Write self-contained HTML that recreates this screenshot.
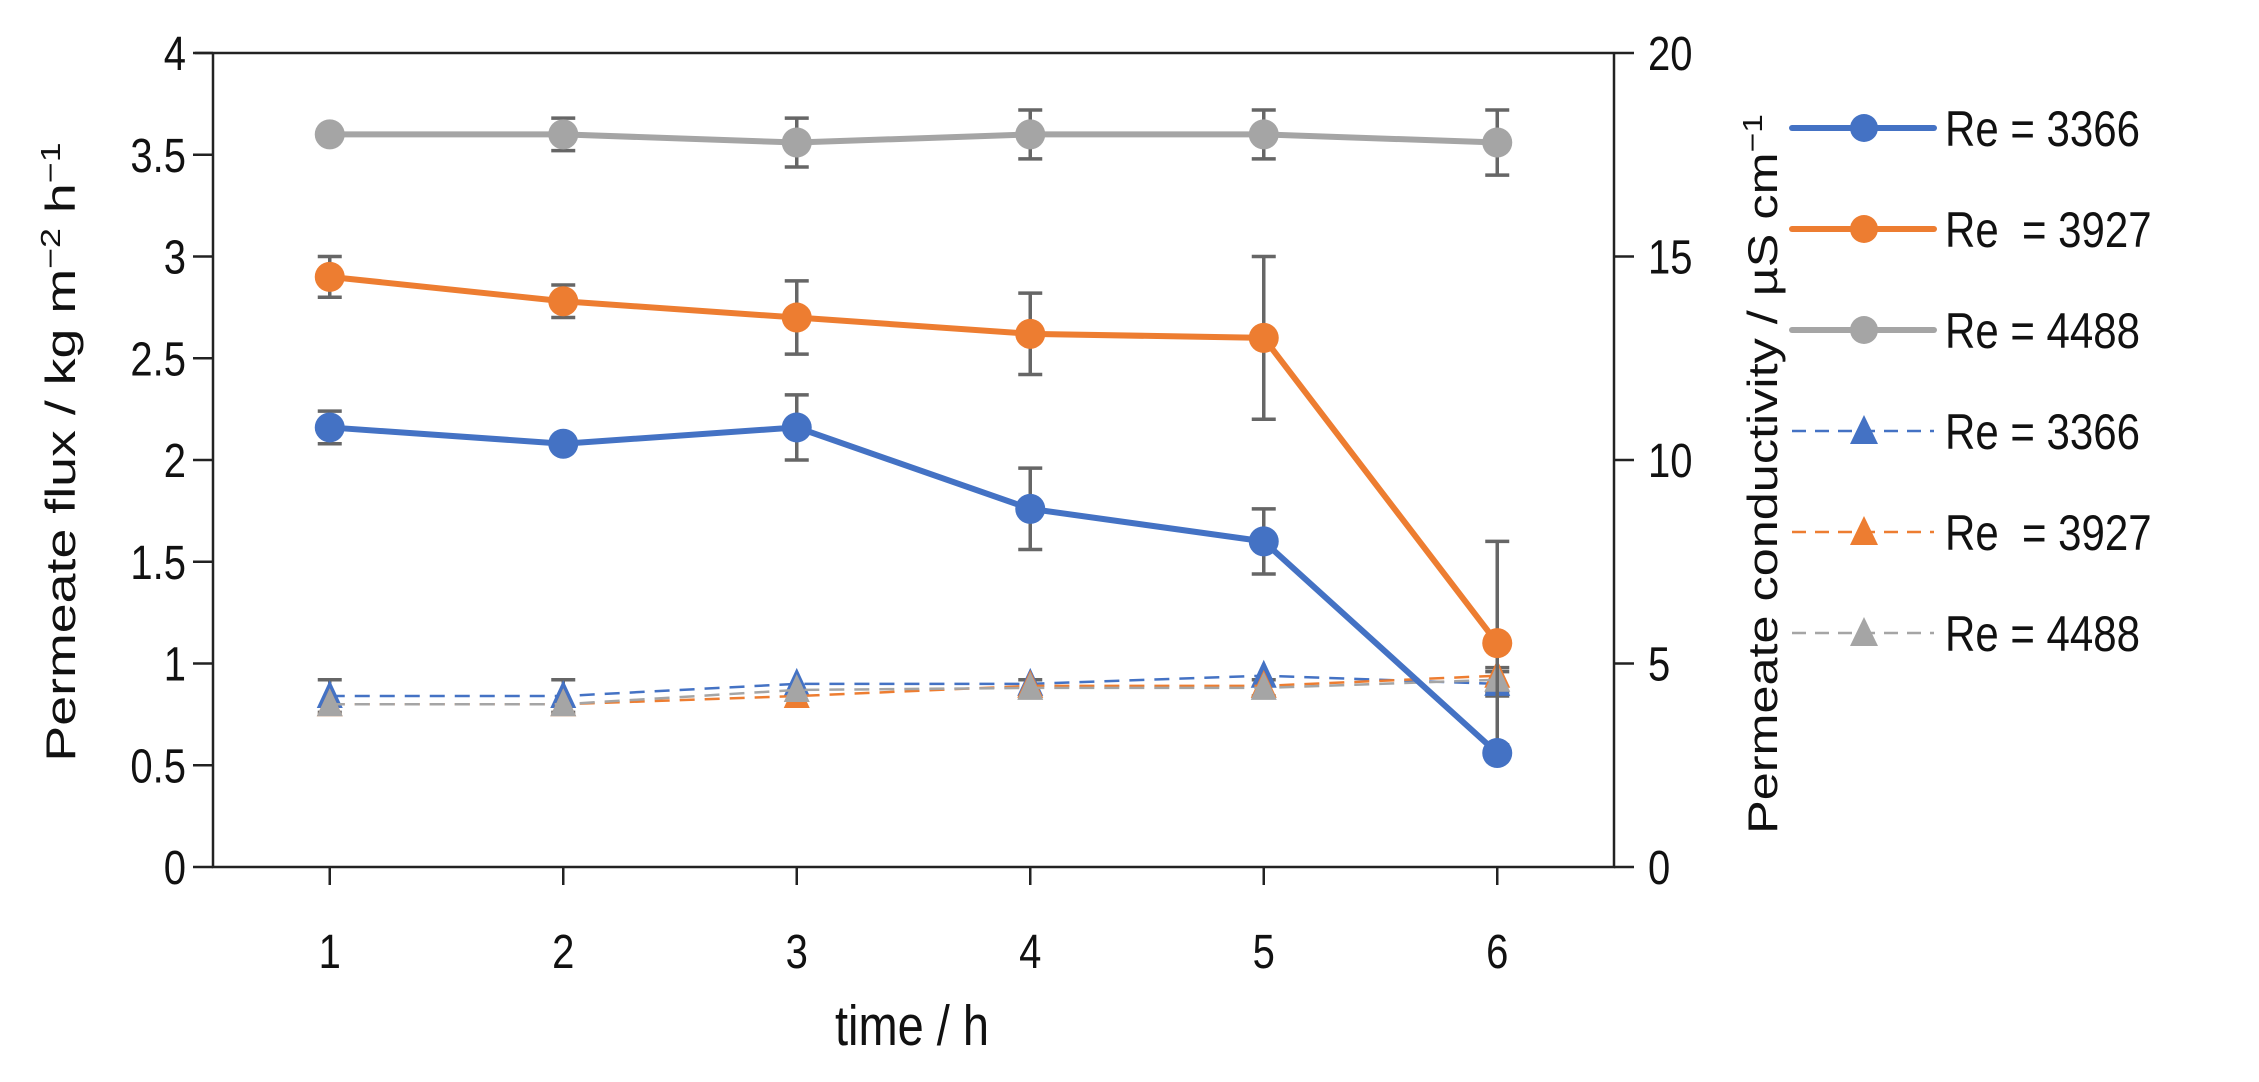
<!DOCTYPE html>
<html><head><meta charset="utf-8"><style>
body{margin:0;background:#fff}
svg text{font-family:"Liberation Sans",Arial,sans-serif;fill:#111}
</style></head><body>
<svg id="chart" width="2259" height="1077" viewBox="0 0 2259 1077" xmlns="http://www.w3.org/2000/svg">
<g id="axes"></g>
<g id="series"></g>
<g id="legend"></g>
<g transform="translate(912,1045) scale(1,1.2)"><text x="0" y="0" font-size="47" text-anchor="middle">time / h</text></g>
<g transform="translate(60,452) rotate(-90) scale(1.28,1)"><text x="0" y="15" font-size="42" text-anchor="middle">Permeate flux / kg m<tspan font-size="28" dy="-15">−2</tspan><tspan dy="15"> h</tspan><tspan font-size="28" dy="-15">−1</tspan></text></g>
<g transform="translate(1762,474) rotate(-90) scale(1.2,1)"><text x="0" y="15" font-size="42" text-anchor="middle">Permeate conductivity / µS cm<tspan font-size="28" dy="-15">−1</tspan></text></g>
</svg>
<script>
const times = [1, 2, 3, 4, 5, 6];
const fluxBlue = [2.16, 2.08, 2.16, 1.76, 1.6, 0.56];
const fluxBlueErr = [0.08, 0, 0.16, 0.2, 0.16, 0];
const fluxOrange = [2.9, 2.78, 2.7, 2.62, 2.6, 1.1];
const fluxOrangeErr = [0.1, 0.08, 0.18, 0.2, 0.4, 0.5];
const fluxGray = [3.6, 3.6, 3.56, 3.6, 3.6, 3.56];
const fluxGrayErr = [0, 0.08, 0.12, 0.12, 0.12, 0.16];
const condBlue = [4.2, 4.2, 4.5, 4.5, 4.7, 4.5];
const condBlueErr = [0.4, 0.4, 0, 0, 0, 0.3];
const condOrange = [4.0, 4.0, 4.2, 4.45, 4.45, 4.7];
const condGray = [4.0, 4.0, 4.35, 4.4, 4.4, 4.6];
const condGrayErr = [0, 0, 0, 0.2, 0.2, 0.3];
const leftTicks = ["0","0.5","1","1.5","2","2.5","3","3.5","4"];
const rightTicks = ["0","5","10","15","20"];
const legendLabels = ["Re = 3366","Re  = 3927","Re = 4488","Re = 3366","Re  = 3927","Re = 4488"];

const NS="http://www.w3.org/2000/svg";
const X0=213,X1=1614,Y0=867,Y1=53;
const xs=t=>X0+(t-0.5)/6*(X1-X0);
const yl=v=>Y0-v/4*(Y0-Y1);
const yr=v=>Y0-v/20*(Y0-Y1);
function mk(tag,attrs,parent){const e=document.createElementNS(NS,tag);for(const k in attrs)e.setAttribute(k,attrs[k]);parent.appendChild(e);return e;}
const axes=document.getElementById('axes'),ser=document.getElementById('series'),leg=document.getElementById('legend');
function txt(x,y,str,size,anchor,parent){const g=mk('g',{transform:`translate(${x},${y}) scale(1,1.2)`},parent);const t=mk('text',{x:0,y:0,'font-size':size,'text-anchor':anchor},g);t.textContent=str;t.style.whiteSpace='pre';return t;}

let e=mk('path',{d:`M${X0} ${Y1}H${X1}M${X0-18} ${Y1}H${X0}M${X0} ${Y1}V${Y0}H${X1}V${Y1}`,stroke:'#222','stroke-width':2.5,fill:'none'},axes);


leftTicks.forEach(t=>{const y=yl(+t);
 let l=mk('line',{x1:X0-20,x2:X0,y1:y,y2:y,stroke:'#222','stroke-width':2.5},axes);
 
 
 let tx=txt(X0-27,y+17,t,40,'end',axes);
 
 });
rightTicks.forEach(t=>{const y=yr(+t);
 let l=mk('line',{x1:X1,x2:X1+20,y1:y,y2:y,stroke:'#222','stroke-width':2.5},axes);
 
 
 let tx=txt(X1+34,y+17,t,40,'start',axes);
 
 });
times.forEach(t=>{const x=xs(t);
 let l=mk('line',{x1:x,x2:x,y1:Y0,y2:Y0+18,stroke:'#222','stroke-width':2.5},axes);
 
 
 let tx=txt(x,968,String(t),40,'middle',axes);
 
 });

function errbars(vals,errs,yf,name){vals.forEach((v,i)=>{if(!errs[i])return;const x=xs(times[i]),a=yf(v+errs[i]),b=yf(v-errs[i]);
 let p=mk('path',{d:`M${x} ${a}V${b}M${x-12} ${a}H${x+12}M${x-12} ${b}H${x+12}`,stroke:'#666','stroke-width':3.5,fill:'none'},ser);
 
 });}
function lineSeries(vals,yf,color,dashed,name){
 const d=vals.map((v,i)=>(i?'L':'M')+xs(times[i])+' '+yf(v)).join('');
 let p=mk('path',{d,stroke:color,'stroke-width':dashed?2.5:6,fill:'none','stroke-dasharray':dashed?'15 10':'none'},ser);
 
 
 vals.forEach((v,i)=>{const x=xs(times[i]),y=yf(v);let m;
  if(dashed)m=mk('path',{d:`M${x} ${y-16}L${x+13} ${y+12}L${x-13} ${y+12}Z`,fill:color},ser);
  else m=mk('circle',{cx:x,cy:y,r:15,fill:color},ser);
  
  });}
const B='#4472c4',O='#ed7d31',G='#a5a5a5';
errbars(condBlue,condBlueErr,yr,'cond-3366');
errbars(condGray,condGrayErr,yr,'cond-4488');
lineSeries(condBlue,yr,B,true,'cond-3366');
lineSeries(condOrange,yr,O,true,'cond-3927');
lineSeries(condGray,yr,G,true,'cond-4488');
errbars(fluxGray,fluxGrayErr,yl,'flux-4488');
errbars(fluxOrange,fluxOrangeErr,yl,'flux-3927');
errbars(fluxBlue,fluxBlueErr,yl,'flux-3366');
lineSeries(fluxGray,yl,G,false,'flux-4488');
lineSeries(fluxOrange,yl,O,false,'flux-3927');
lineSeries(fluxBlue,yl,B,false,'flux-3366');

const lc=[B,O,G,B,O,G];
legendLabels.forEach((lab,i)=>{const y=128+i*101,dashed=i>=3;
 const g=mk('g',{},leg);
 
 
 mk('line',{x1:1792,x2:1934,y1:y,y2:y,stroke:lc[i],'stroke-width':dashed?2.5:6,'stroke-linecap':dashed?'butt':'round','stroke-dasharray':dashed?'14 9':'none'},g);
 if(dashed)mk('path',{d:`M1864 ${y-16}L1878 ${y+13}L1850 ${y+13}Z`,fill:lc[i]},g);
 else mk('circle',{cx:1864,cy:y,r:14,fill:lc[i]},g);
 txt(1945,y+18,lab,42,'start',g);});
</script>
</body></html>
